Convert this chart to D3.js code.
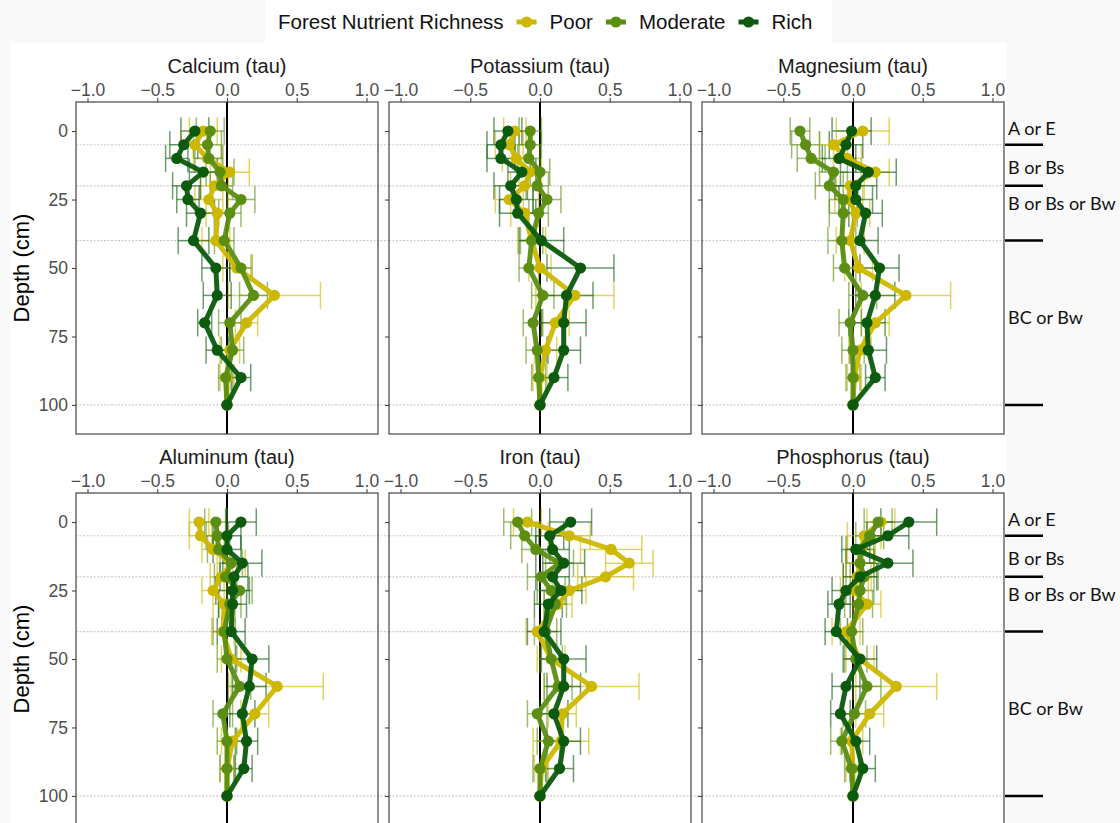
<!DOCTYPE html>
<html>
<head>
<meta charset="utf-8">
<script src="https://cdn.jsdelivr.net/npm/d3@7"></script>
<style>
  html, body { margin: 0; padding: 0; background: #f9f9f9; }
  svg { display: block; }
</style>
</head>
<body>
<svg id="chart" width="1120" height="823"></svg>
<script>
// Sampling depths (cm) shared by every profile
const depths = [0, 5, 10, 15, 20, 25, 30, 40, 50, 60, 70, 80, 90, 100];

// Calcium tau, mean and error half-width per depth
const caPoor     = [-0.17, -0.23, -0.14, 0.02, -0.09, -0.13, -0.07, -0.08, 0.07, 0.34, 0.14, 0.02, 0.00, 0];
const caPoorErr  = [0.10, 0.10, 0.10, 0.14, 0.10, 0.10, 0.08, 0.10, 0.10, 0.33, 0.08, 0.07, 0.05, 0];
const caMod      = [-0.12, -0.14, -0.13, -0.05, -0.04, 0.10, 0.02, -0.02, 0.10, 0.19, 0.02, 0.04, -0.01, 0];
const caModErr   = [0.10, 0.10, 0.10, 0.10, 0.08, 0.10, 0.08, 0.07, 0.08, 0.10, 0.08, 0.08, 0.05, 0];
const caRich     = [-0.23, -0.31, -0.36, -0.17, -0.29, -0.28, -0.19, -0.24, -0.08, -0.07, -0.16, -0.07, 0.10, 0];
const caRichErr  = [0.10, 0.10, 0.08, 0.10, 0.10, 0.08, 0.10, 0.11, 0.10, 0.10, 0.05, 0.08, 0.07, 0];

// Potassium tau
const kPoor      = [-0.18, -0.22, -0.17, -0.07, -0.11, -0.22, -0.11, -0.06, 0.00, 0.25, 0.11, 0.04, 0.00, 0];
const kPoorErr   = [0.08, 0.10, 0.10, 0.08, 0.10, 0.10, 0.10, 0.10, 0.08, 0.28, 0.10, 0.08, 0.05, 0];
const kMod       = [-0.07, -0.07, -0.08, 0.00, -0.02, 0.05, -0.01, -0.06, -0.08, 0.02, -0.05, -0.02, -0.01, 0];
const kModErr    = [0.08, 0.08, 0.08, 0.07, 0.08, 0.10, 0.07, 0.08, 0.07, 0.08, 0.07, 0.08, 0.05, 0];
const kRich      = [-0.23, -0.28, -0.28, -0.13, -0.21, -0.17, -0.16, 0.01, 0.29, 0.19, 0.17, 0.17, 0.10, 0];
const kRichErr   = [0.10, 0.10, 0.10, 0.10, 0.12, 0.12, 0.13, 0.16, 0.24, 0.19, 0.16, 0.12, 0.10, 0];

// Magnesium tau
const mgPoor     = [0.07, -0.14, -0.04, 0.16, -0.02, -0.03, 0.02, -0.02, 0.04, 0.38, 0.16, 0.05, 0.01, 0];
const mgPoorErr  = [0.19, 0.10, 0.10, 0.10, 0.10, 0.10, 0.10, 0.10, 0.10, 0.32, 0.10, 0.08, 0.05, 0];
const mgMod      = [-0.38, -0.34, -0.30, -0.14, -0.17, -0.07, -0.07, -0.08, -0.06, 0.07, -0.02, 0.00, 0.00, 0];
const mgModErr   = [0.07, 0.10, 0.10, 0.10, 0.10, 0.10, 0.10, 0.10, 0.08, 0.10, 0.08, 0.08, 0.05, 0];
const mgRich     = [-0.01, -0.05, -0.10, 0.11, 0.02, 0.02, 0.09, 0.05, 0.19, 0.16, 0.10, 0.11, 0.16, 0];
const mgRichErr  = [0.14, 0.12, 0.12, 0.20, 0.15, 0.12, 0.12, 0.13, 0.14, 0.14, 0.13, 0.13, 0.07, 0];

// Aluminum tau
const alPoor     = [-0.20, -0.19, -0.10, 0.03, -0.04, -0.10, -0.02, -0.03, 0.03, 0.36, 0.20, 0.04, 0.00, 0];
const alPoorErr  = [0.07, 0.08, 0.08, 0.10, 0.08, 0.08, 0.08, 0.08, 0.07, 0.33, 0.10, 0.08, 0.05, 0];
const alMod      = [-0.08, -0.07, -0.06, 0.03, -0.01, 0.09, 0.02, -0.02, 0.00, 0.09, -0.03, 0.00, 0.00, 0];
const alModErr   = [0.08, 0.08, 0.08, 0.08, 0.08, 0.09, 0.08, 0.08, 0.07, 0.08, 0.07, 0.07, 0.05, 0];
const alRich     = [0.10, 0.00, 0.00, 0.11, 0.05, 0.04, 0.04, 0.03, 0.18, 0.16, 0.11, 0.14, 0.12, 0];
const alRichErr  = [0.11, 0.10, 0.10, 0.14, 0.10, 0.12, 0.10, 0.10, 0.12, 0.12, 0.09, 0.08, 0.06, 0];

// Iron tau
const fePoor     = [-0.09, 0.21, 0.51, 0.64, 0.47, 0.21, 0.13, -0.02, 0.08, 0.37, 0.16, 0.15, 0.01, 0];
const fePoorErr  = [0.10, 0.15, 0.22, 0.17, 0.20, 0.12, 0.10, 0.08, 0.10, 0.34, 0.10, 0.20, 0.05, 0];
const feMod      = [-0.16, -0.11, -0.03, 0.14, 0.01, 0.08, 0.11, 0.04, 0.08, 0.13, -0.02, 0.06, 0.00, 0];
const feModErr   = [0.10, 0.10, 0.10, 0.10, 0.10, 0.10, 0.08, 0.08, 0.08, 0.10, 0.07, 0.08, 0.05, 0];
const feRich     = [0.22, 0.07, 0.09, 0.17, 0.09, 0.15, 0.06, 0.03, 0.17, 0.17, 0.10, 0.17, 0.14, 0];
const feRichErr  = [0.15, 0.10, 0.12, 0.15, 0.12, 0.15, 0.10, 0.12, 0.16, 0.12, 0.10, 0.12, 0.10, 0];

// Phosphorus tau
const pPoor      = [0.20, 0.08, 0.06, 0.05, 0.03, 0.01, 0.10, -0.05, 0.05, 0.31, 0.12, -0.01, 0.00, 0];
const pPoorErr   = [0.10, 0.12, 0.10, 0.10, 0.10, 0.10, 0.10, 0.10, 0.10, 0.29, 0.10, 0.08, 0.05, 0];
const pMod       = [0.18, 0.12, 0.05, 0.05, 0.08, 0.05, 0.04, -0.01, 0.02, 0.10, 0.01, -0.08, -0.01, 0];
const pModErr    = [0.10, 0.10, 0.10, 0.10, 0.10, 0.10, 0.10, 0.08, 0.08, 0.10, 0.08, 0.08, 0.05, 0];
const pRich      = [0.40, 0.25, 0.02, 0.25, 0.05, -0.05, -0.10, -0.12, 0.05, -0.05, -0.09, 0.02, 0.07, 0];
const pRichErr   = [0.20, 0.15, 0.10, 0.18, 0.12, 0.10, 0.08, 0.08, 0.12, 0.10, 0.07, 0.10, 0.09, 0];

const panelTitles = ["Calcium (tau)", "Potassium (tau)", "Magnesium (tau)",
                     "Aluminum (tau)", "Iron (tau)", "Phosphorus (tau)"];
const groupNames = ["Poor", "Moderate", "Rich"];
const groupColors = ["#cdb800", "#5b8e12", "#0b5a0d"];
const legendTitle = "Forest Nutrient Richness";
const xTicks = [-1.0, -0.5, 0.0, 0.5, 1.0];
const yTicks = [0, 25, 50, 75, 100];
const horizonBreaks = [5, 20, 40, 100];
const horizonLabels = ["A or E", "B or Bs", "B or Bs or Bw", "BC or Bw"];
const horizonLabelDepths = [-1, 13.5, 26.5, 68];
const yTitle = "Depth (cm)";

// Panel table assembled from the arrays above
const panelSeries = [
  [[caPoor, caPoorErr], [caMod, caModErr], [caRich, caRichErr]],
  [[kPoor, kPoorErr], [kMod, kModErr], [kRich, kRichErr]],
  [[mgPoor, mgPoorErr], [mgMod, mgModErr], [mgRich, mgRichErr]],
  [[alPoor, alPoorErr], [alMod, alModErr], [alRich, alRichErr]],
  [[fePoor, fePoorErr], [feMod, feModErr], [feRich, feRichErr]],
  [[pPoor, pPoorErr], [pMod, pModErr], [pRich, pRichErr]]
];

// ---- layout ----
const FONT = "'Liberation Sans', Arial, sans-serif";
const panelW = 302, panelH = 332;
const colLeft = [76, 389, 702];
const rowTop = [102, 493];
const xDomain = [-1.0825, 1.0825];
const yDomain = [-10.6, 110.6];
const capHalf = 5; // error bar cap half-height, in depth units

const svg = d3.select("#chart");

// plot and legend backgrounds
svg.append("rect").attr("x", 10).attr("y", 43).attr("width", 997).attr("height", 780).attr("fill", "#ffffff");
svg.append("rect").attr("x", 265).attr("y", 0).attr("width", 567).attr("height", 43).attr("fill", "#ffffff");

const fmt = d3.format(".1f");

panelSeries.forEach((series, p) => {
  const row = Math.floor(p / 3), col = p % 3;
  const left = colLeft[col], top = rowTop[row];
  const x = d3.scaleLinear().domain(xDomain).range([left, left + panelW]);
  const y = d3.scaleLinear().domain(yDomain).range([top, top + panelH]);
  const g = svg.append("g");

  // panel background
  g.append("rect").attr("x", left).attr("y", top).attr("width", panelW).attr("height", panelH)
    .attr("fill", "#ffffff");

  // horizon boundary reference lines
  g.selectAll("line.hz").data(horizonBreaks).join("line")
    .attr("x1", left).attr("x2", left + panelW + (col < 2 ? colLeft[col + 1] - left - panelW : 0))
    .attr("y1", d => y(d)).attr("y2", d => y(d))
    .attr("stroke", "#cccccc").attr("stroke-width", 1.2).attr("stroke-dasharray", "2,1.5");

  // zero line
  g.append("line").attr("x1", x(0)).attr("x2", x(0)).attr("y1", top).attr("y2", top + panelH)
    .attr("stroke", "#000").attr("stroke-width", 2);

  // error bars
  series.forEach(([vals, errs], s) => {
    const eg = g.append("g").attr("stroke", groupColors[s]).attr("stroke-opacity", 0.6)
      .attr("stroke-width", 1.5).attr("fill", "none");
    depths.forEach((d, i) => {
      const e = errs[i];
      if (!e) return;
      const x1 = x(vals[i] - e), x2 = x(vals[i] + e);
      eg.append("line").attr("x1", x1).attr("x2", x2).attr("y1", y(d)).attr("y2", y(d));
      eg.append("line").attr("x1", x1).attr("x2", x1).attr("y1", y(d - capHalf)).attr("y2", y(d + capHalf));
      eg.append("line").attr("x1", x2).attr("x2", x2).attr("y1", y(d - capHalf)).attr("y2", y(d + capHalf));
    });
  });

  // profile lines and points
  const line = d3.line().x(d => x(d[1])).y(d => y(d[0]));
  series.forEach(([vals], s) => {
    const pts = depths.map((d, i) => [d, vals[i]]);
    g.append("path").datum(pts).attr("d", line)
      .attr("fill", "none").attr("stroke", groupColors[s]).attr("stroke-width", 5)
      .attr("stroke-linejoin", "round").attr("stroke-linecap", "round").attr("stroke-opacity", 0.95);
    g.selectAll(null).data(pts).join("circle")
      .attr("cx", d => x(d[1])).attr("cy", d => y(d[0])).attr("r", 5.6)
      .attr("fill", groupColors[s]);
  });

  // border
  g.append("rect").attr("x", left).attr("y", top).attr("width", panelW).attr("height", panelH)
    .attr("fill", "none").attr("stroke", "#444").attr("stroke-width", 1.2);

  // top axis
  const xa = g.append("g").attr("transform", `translate(0,${top})`)
    .call(d3.axisTop(x).tickValues(xTicks).tickFormat(fmt).tickSize(4).tickPadding(2));
  xa.select(".domain").remove();
  xa.selectAll("line").attr("stroke", "#444").attr("stroke-width", 1.1);
  xa.selectAll("text").attr("font-family", FONT).attr("font-size", 17.5).attr("fill", "#4d4d4d");

  // left axis
  const ya = g.append("g").attr("transform", `translate(${left},0)`)
    .call(d3.axisLeft(y).tickValues(yTicks).tickSize(4).tickPadding(4));
  ya.select(".domain").remove();
  ya.selectAll("line").attr("stroke", "#444").attr("stroke-width", 1.1);
  ya.selectAll("text").attr("font-family", FONT).attr("font-size", 17.5).attr("fill", "#4d4d4d");
  if (col > 0) ya.selectAll("text").remove();

  // panel title
  g.append("text").attr("x", left + panelW / 2).attr("y", top - 29)
    .attr("text-anchor", "middle").attr("font-family", FONT).attr("font-size", 20)
    .attr("fill", "#1a1a1a").text(panelTitles[p]);

  // y axis title
  if (col === 0) {
    g.append("text").attr("transform", `translate(29,${top + panelH / 2}) rotate(-90)`)
      .attr("text-anchor", "middle").attr("font-family", FONT).attr("font-size", 22)
      .attr("fill", "#000").text(yTitle);
  }

  // soil horizon strip on the right
  if (col === 2) {
    const sx = left + panelW;
    g.selectAll("line.hb").data(horizonBreaks).join("line")
      .attr("x1", sx + 1).attr("x2", sx + 39).attr("y1", d => y(d)).attr("y2", d => y(d))
      .attr("stroke", "#000").attr("stroke-width", 2.5);
    g.selectAll("text.hl").data(horizonLabels).join("text")
      .attr("x", sx + 4).attr("y", (d, i) => y(horizonLabelDepths[i]))
      .attr("dy", "0.35em").attr("font-family", "Lato, 'Open Sans', sans-serif")
      .attr("font-size", 18).attr("fill", "#111").text(d => d);
  }
});

// legend
const lg = svg.append("g");
let lx = 278;
const ly = 22;
const lt = lg.append("text").attr("x", lx).attr("y", ly).attr("dy", "0.35em")
  .attr("font-family", FONT).attr("font-size", 20.5).attr("fill", "#111").text(legendTitle);
lx += lt.node().getComputedTextLength() + 13;
groupNames.forEach((name, i) => {
  lg.append("line").attr("x1", lx).attr("x2", lx + 20).attr("y1", ly).attr("y2", ly)
    .attr("stroke", groupColors[i]).attr("stroke-width", 5);
  lg.append("circle").attr("cx", lx + 10).attr("cy", ly).attr("r", 5.6).attr("fill", groupColors[i]);
  lx += 33;
  const t = lg.append("text").attr("x", lx).attr("y", ly).attr("dy", "0.35em")
    .attr("font-family", FONT).attr("font-size", 20.5).attr("fill", "#111").text(name);
  lx += t.node().getComputedTextLength() + 13;
});
</script>
</body>
</html>
